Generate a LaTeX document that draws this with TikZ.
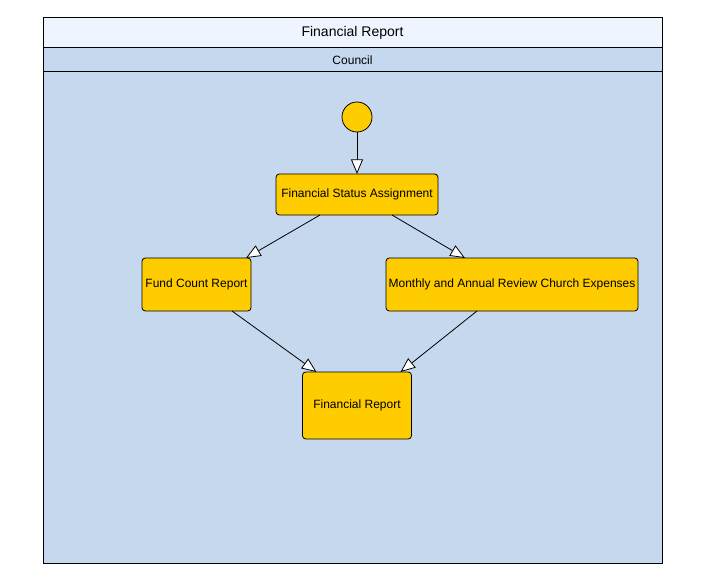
\documentclass[tikz,border=0pt]{standalone}
\usepackage{fontspec}
\setmainfont{Liberation Sans}
\usepackage{xcolor}
\usetikzlibrary{arrows.meta, positioning, calc}
\definecolor{titleblue}{RGB}{238, 245, 255}
\definecolor{laneblue}{RGB}{197, 216, 238}
\definecolor{activityyellow}{RGB}{255, 204, 0}
\tikzstyle{band} = [rectangle, draw=black, line width=0.75pt, inner sep=0pt, outer sep=0pt, minimum width=464.25pt]
\tikzstyle{startnode} = [circle, draw=black, line width=0.6pt, fill=activityyellow, minimum size=22.5pt, inner sep=0pt, outer sep=0pt]
\tikzstyle{activity} = [rectangle, rounded corners=2.5pt, draw=black, line width=0.6pt, fill=activityyellow, text centered, font=\fontsize{9}{11}\selectfont, inner sep=0pt, outer sep=0pt]
\tikzstyle{flow} = [line width=0.6pt, -{Triangle[open, length=11pt, width=9pt, fill=white]}]

\begin{document}
\begin{tikzpicture}[x=0.75pt, y=-0.75pt]
  \useasboundingbox (0,0) rectangle (703,588);
  % swimlane
  \node[band, fill=titleblue, minimum height=22.5pt, font=\fontsize{10.5}{12}\selectfont] (title) at (352.5,33) {Financial Report};
  \node[band, fill=laneblue, minimum height=18pt, below=0pt of title, font=\fontsize{9}{11}\selectfont] (lane) {Council};
  \node[band, fill=laneblue, minimum height=368.25pt, below=0pt of lane] (body) {};

  % activities
  \node[startnode] (start) at (357,117) {};
  \node[activity, minimum width=121.5pt, minimum height=30.75pt, below=31.5pt of start] (assign) {Financial Status Assignment};
  \node[activity, minimum width=81.75pt, minimum height=39.75pt, below left=32.25pt and 18.75pt of assign] (fund) {Fund Count Report};
  \node[activity, minimum width=189pt, minimum height=39.75pt, below right=32.25pt and -39pt of assign] (review) {Monthly and Annual Review Church Expenses};
  \coordinate (mid) at (assign |- fund.south);
  \node[activity, minimum width=81.75pt, minimum height=50.25pt, below=45.75pt of mid] (report) {Financial Report};

  \draw[flow] (start) -- (assign);
  \draw[flow] ($(assign.south west)+(44,0)$) -- ($(fund.north east)+(-5,0)$);
  \draw[flow] ($(assign.south east)+(-46,0)$) -- ($(review.north west)+(79,0)$);
  \draw[flow] ($(fund.south east)+(-19,0)$) -- ($(report.north west)+(14,0)$);
  \draw[flow] ($(review.south west)+(91,0)$) -- ($(report.north east)+(-11,0)$);
\end{tikzpicture}
\end{document}
